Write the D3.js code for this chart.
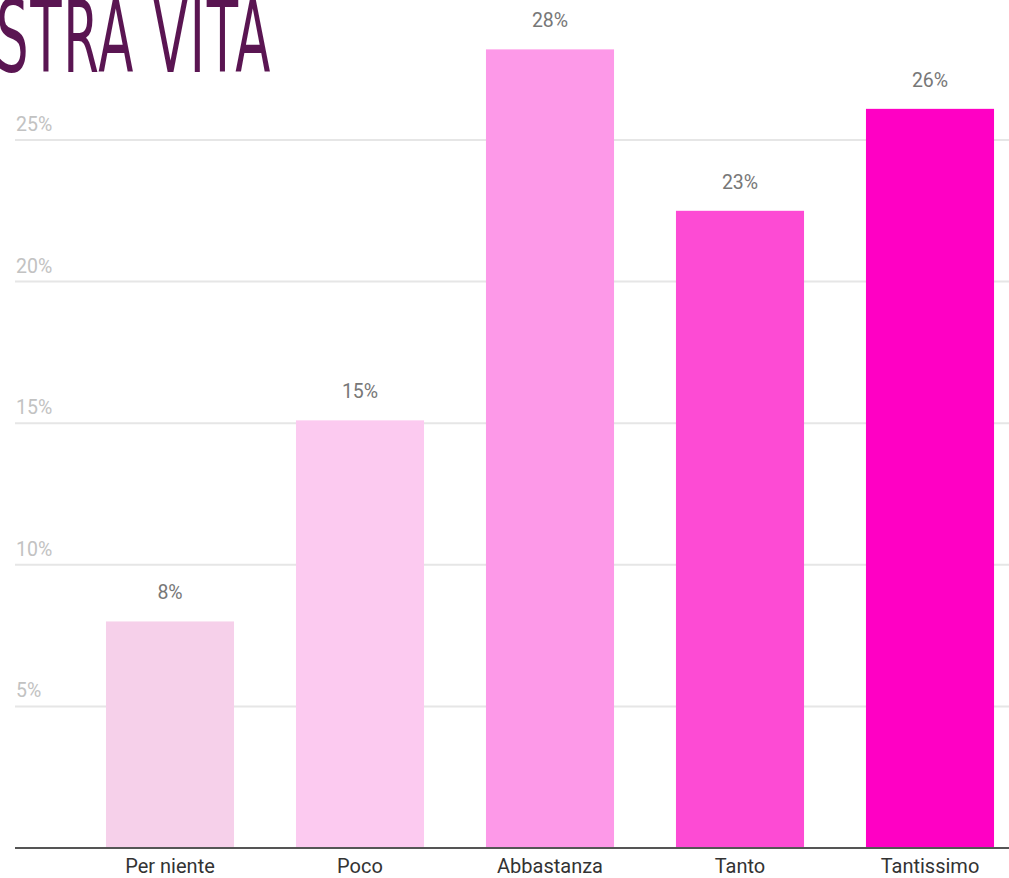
<!DOCTYPE html>
<html>
<head>
<meta charset="utf-8">
<script src="https://d3js.org/d3.v7.min.js"></script>
<style>
  body { margin: 0; background: #fff; }
  svg { display: block; font-family: Roboto, "Noto Sans", sans-serif; }
</style>
</head>
<body>
<svg id="chart"></svg>
<script>
    // data
    const categories = ["Per niente", "Poco", "Abbastanza", "Tanto", "Tantissimo"];
    const values = [8.0, 15.1, 28.2, 22.5, 26.1];
    const valueLabels = ["8%", "15%", "28%", "23%", "26%"];
    const barColors = ["#f6d0ea", "#fccaf0", "#fd99e8", "#fd4bd4", "#ff00c4"];
    const yTicks = [5, 10, 15, 20, 25];

    const WIDTH = 1009;
    const HEIGHT = 878;
    const BASELINE = 848;
    const GRID_LEFT = 15;

    let svg = d3.select("#chart")
        .attr("width", WIDTH)
        .attr("height", HEIGHT);

    let x = d3.scaleBand()
        .domain(categories)
        .range([75, 1025])
        .paddingInner(0.326)
        .paddingOuter(0.163);

    let y = d3.scaleLinear()
        .domain([0, 25])
        .range([BASELINE, 140]);

    // gridlines + tick labels
    let grid = svg.append("g");
    grid.selectAll("line")
        .data(yTicks)
        .join("line")
        .attr("x1", GRID_LEFT)
        .attr("x2", WIDTH)
        .attr("y1", d => y(d))
        .attr("y2", d => y(d))
        .attr("stroke", "#e6e6e6")
        .attr("stroke-width", 2);

    grid.selectAll("text")
        .data(yTicks)
        .join("text")
        .attr("x", GRID_LEFT + 1)
        .attr("y", d => y(d) - 9)
        .attr("fill", "#c2c2c2")
        .style("font-size", "19.5px")
        .text(d => d + "%");

    // title, cut off at the top left like the original
    svg.append("text")
        .attr("transform", "translate(272,72) scale(0.57,1)")
        .attr("text-anchor", "end")
        .attr("fill", "#5a1552")
        .attr("letter-spacing", 3)
        .style("font-family", "'Liberation Sans Narrow', 'DejaVu Sans Condensed', sans-serif")
        .style("font-size", "100px")
        .text("NELLA NOSTRA VITA");

    // bars
    svg.selectAll("rect.bar")
        .data(categories)
        .join("rect")
        .attr("class", "bar")
        .attr("x", d => x(d))
        .attr("width", x.bandwidth())
        .attr("y", (d, i) => y(values[i]))
        .attr("height", (d, i) => BASELINE - y(values[i]))
        .attr("fill", (d, i) => barColors[i]);

    // value labels
    svg.selectAll("text.value")
        .data(categories)
        .join("text")
        .attr("class", "value")
        .attr("x", d => x(d) + x.bandwidth() / 2)
        .attr("y", (d, i) => y(values[i]) - 22)
        .attr("text-anchor", "middle")
        .attr("fill", "#777")
        .style("font-size", "19.5px")
        .text((d, i) => valueLabels[i]);

    // x axis
    let xAxis = svg.append("g")
        .attr("transform", `translate(0,${BASELINE})`)
        .call(d3.axisBottom(x).tickSize(0).tickPadding(11));
    xAxis.select(".domain").remove();
    xAxis.append("line")
        .attr("x1", GRID_LEFT)
        .attr("x2", WIDTH)
        .attr("stroke", "#555")
        .attr("stroke-width", 2);
    xAxis.selectAll(".tick text")
        .attr("fill", "#333")
        .style("font-family", "Roboto, sans-serif")
        .style("font-size", "20px");
</script>
</body>
</html>
